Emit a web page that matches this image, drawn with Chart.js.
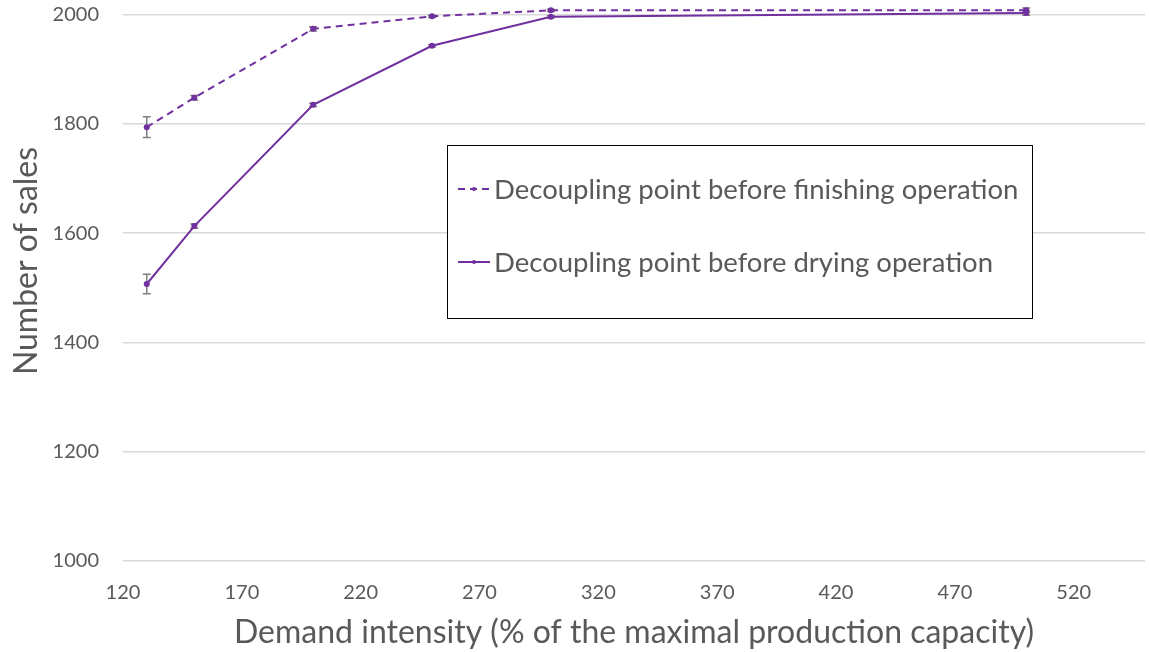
<!DOCTYPE html>
<html>
<head>
<meta charset="utf-8">
<script src="https://cdn.jsdelivr.net/npm/chart.js@4.4.1/dist/chart.umd.min.js"></script>
<style>
  html, body { margin: 0; padding: 0; background: #fff; }
  #wrap { width: 1149px; height: 652px; position: relative; }
</style>
</head>
<body>
<div id="wrap"><canvas id="c" width="1149" height="652"></canvas></div>
<script>
// Demand intensity (% of maximal production capacity)
const demandIntensity = [130, 150, 200, 250, 300, 500];

// Number of sales per decoupling point configuration
const salesFinishing = [1794, 1848, 1974, 1997, 2008, 2008];
const salesDrying    = [1507, 1613, 1835, 1943, 1996, 2003];

// Half-width of the error bars
const errFinishing = [19, 4, 4, 2, 2, 4];
const errDrying    = [18, 4, 3, 2, 2, 4];

const seriesLabels = [
  'Decoupling point before finishing operation',
  'Decoupling point before drying operation'
];
const yTitle = 'Number of sales';
const xTitle = 'Demand intensity (% of the maximal production capacity)';
const yTickValues = [1000, 1200, 1400, 1600, 1800, 2000];
const xTickValues = [120, 170, 220, 270, 320, 370, 420, 470, 520];

const PURPLE = '#7030A0';
const TEXT = '#595959';
const FONT = 'Lato, "Liberation Sans", sans-serif';

const toPoints = (xs, ys) => xs.map((x, i) => ({ x, y: ys[i] }));

// Vertical error bars with caps, drawn beneath the markers
const errorBars = {
  id: 'errorBars',
  beforeDatasetsDraw(chart) {
    const { ctx, scales: { x, y } } = chart;
    const errs = [errFinishing, errDrying];
    ctx.save();
    ctx.strokeStyle = '#7f7f7f';
    ctx.lineWidth = 1.5;
    chart.data.datasets.forEach((ds, di) => {
      ds.data.forEach((p, i) => {
        const e = errs[di][i];
        const px = x.getPixelForValue(p.x);
        const top = y.getPixelForValue(p.y + e);
        const bot = y.getPixelForValue(p.y - e);
        ctx.beginPath();
        ctx.moveTo(px, top); ctx.lineTo(px, bot);
        ctx.moveTo(px - 4, top); ctx.lineTo(px + 4, top);
        ctx.moveTo(px - 4, bot); ctx.lineTo(px + 4, bot);
        ctx.stroke();
      });
    });
    ctx.restore();
  }
};

// Rotated y-axis title
const yAxisTitle = {
  id: 'yAxisTitle',
  afterDraw(chart) {
    const { ctx } = chart;
    ctx.save();
    ctx.translate(27, 261);
    ctx.rotate(-Math.PI / 2);
    ctx.fillStyle = TEXT;
    ctx.font = '32px ' + FONT;
    ctx.textAlign = 'center';
    ctx.textBaseline = 'middle';
    ctx.fillText(yTitle, 0, 0);
    ctx.restore();
  }
};

// Boxed legend placed inside the plot area
const boxLegend = {
  id: 'boxLegend',
  afterDraw(chart) {
    const { ctx } = chart;
    const bx = 447.5, by = 145.5, bw = 585, bh = 173;
    ctx.save();
    ctx.fillStyle = '#fff';
    ctx.fillRect(bx, by, bw, bh);
    ctx.strokeStyle = '#000';
    ctx.lineWidth = 1;
    ctx.strokeRect(bx, by, bw, bh);
    const rows = [189, 262];
    chart.data.datasets.forEach((ds, i) => {
      const yy = rows[i];
      ctx.strokeStyle = PURPLE;
      ctx.lineWidth = 2;
      ctx.setLineDash(ds.borderDash || []);
      ctx.beginPath();
      ctx.moveTo(458, yy); ctx.lineTo(490, yy);
      ctx.stroke();
      ctx.setLineDash([]);
      ctx.fillStyle = PURPLE;
      ctx.beginPath();
      ctx.arc(474, yy, 2, 0, Math.PI * 2);
      ctx.fill();
      ctx.fillStyle = TEXT;
      ctx.font = '27.5px ' + FONT;
      ctx.textBaseline = 'middle';
      ctx.fillText(ds.label, 494, yy + 1);
    });
    ctx.restore();
  }
};

new Chart(document.getElementById('c'), {
  type: 'line',
  data: {
    datasets: [
      {
        label: seriesLabels[0],
        data: toPoints(demandIntensity, salesFinishing),
        borderColor: PURPLE,
        backgroundColor: PURPLE,
        borderWidth: 2,
        borderDash: [7, 5],
        pointRadius: 3,
        pointBorderWidth: 0,
        tension: 0,
        clip: false
      },
      {
        label: seriesLabels[1],
        data: toPoints(demandIntensity, salesDrying),
        borderColor: PURPLE,
        backgroundColor: PURPLE,
        borderWidth: 2,
        pointRadius: 3,
        pointBorderWidth: 0,
        tension: 0,
        clip: false
      }
    ]
  },
  options: {
    responsive: false,
    animation: false,
    layout: { padding: 0 },
    plugins: { legend: { display: false }, tooltip: { enabled: false } },
    scales: {
      x: {
        type: 'linear',
        min: 120,
        max: 550,
        afterBuildTicks(s) { s.ticks = xTickValues.map(v => ({ value: v })); },
        afterFit(s) { s.height = 91; s.paddingLeft = 0; s.paddingRight = 0; },
        grid: { display: false, drawTicks: false },
        border: { display: false },
        ticks: { color: TEXT, font: { family: FONT, size: 20 }, padding: 20, maxRotation: 0 },
        title: {
          display: true,
          text: xTitle,
          color: TEXT,
          font: { family: FONT, size: 32 },
          padding: { top: 0, bottom: 0 }
        }
      },
      y: {
        type: 'linear',
        min: 1000,
        max: 2019.5,
        afterBuildTicks(s) { s.ticks = yTickValues.map(v => ({ value: v })); },
        afterFit(s) { s.width = 123; s.paddingTop = 0; s.paddingBottom = 0; },
        grid: { color: '#d9d9d9', lineWidth: 1.5, drawTicks: false },
        border: { display: false },
        ticks: { color: TEXT, font: { family: FONT, size: 20 }, padding: 24, callback: v => String(v) },
        title: { display: false }
      }
    }
  },
  plugins: [errorBars, yAxisTitle, boxLegend]
});
</script>
</body>
</html>
